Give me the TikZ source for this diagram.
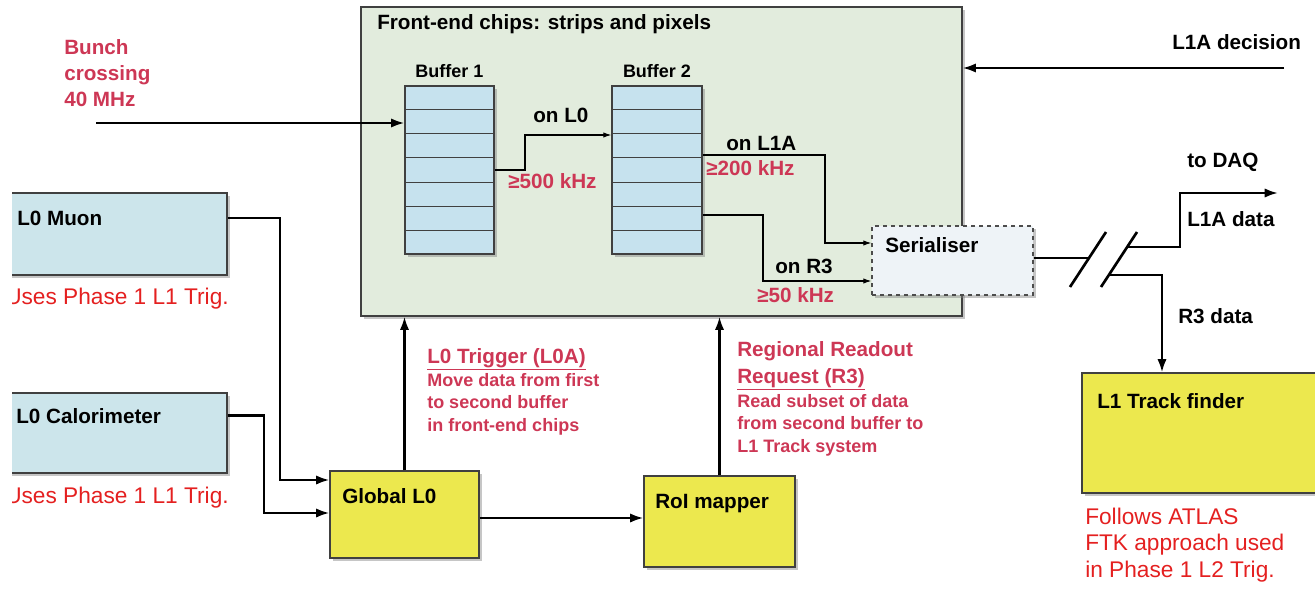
\documentclass[tikz,border=0pt]{standalone}
\usepackage{fontspec}
\setmainfont{Liberation Sans}
\usetikzlibrary{arrows.meta,fit,calc,shadows}

\definecolor{lblred}{RGB}{205,55,85}
\definecolor{notered}{RGB}{228,32,32}
\definecolor{l0blue}{RGB}{204,229,235}
\definecolor{bufblue}{RGB}{198,226,238}
\definecolor{fegreen}{RGB}{226,236,221}
\definecolor{trigyellow}{RGB}{236,232,78}
\definecolor{serfill}{RGB}{238,243,247}

\tikzset{
  shade/.style={drop shadow={opacity=0.45,shadow xshift=2pt,shadow yshift=-2pt}},
  box/.style={draw=black!75, line width=0.9pt, inner sep=0pt, shade},
  febox/.style={box, fill=fegreen},
  l0box/.style={box, fill=l0blue},
  ybox/.style={box, fill=trigyellow},
  bufbox/.style={box, fill=bufblue},
  serbox/.style={draw=black!70, dashed, line width=0.9pt, inner sep=0pt, fill=serfill, shade},
  cell/.style={draw=black!75, line width=0.8pt},
  txt/.style={font=\fontsize{15.5}{18}\selectfont\bfseries, inner sep=0pt, anchor=base west},
  smalltxt/.style={txt, font=\fontsize{13.5}{16}\selectfont\bfseries},
  lbltxt/.style={txt, text=lblred},
  expl/.style={smalltxt, text=lblred},
  notetxt/.style={txt, font=\fontsize{17}{20}\selectfont, text=notered},
  bigarr/.style={-{Latex[length=10pt,width=7pt]}, line width=1.8pt},
  thinarr/.style={-{Latex[length=6pt,width=4pt]}, line width=0.8pt},
  outline/.style={line width=1.5pt},
  brk/.style={line width=2pt},
}

\begin{document}
\begin{tikzpicture}[x=0.75pt,y=-0.75pt]
\useasboundingbox (0,0) rectangle (1315,589);
\clip (12,0) rectangle (1315,589);

% front-end chips
    \node[febox, fit={(361,7) (962,316)}] (fe) {};
    \node[txt] (fetitle) at (377,30) {Front-end chips: strips and pixels};
    \node[bufbox, fit={(405,86) (494,254)}] (buf1) {};
    \node[bufbox, fit={(612,86) (702,254)}] (buf2) {};
    \foreach \b in {buf1,buf2}{
        \foreach \i in {1,...,6}
            \draw[cell] ($(\b.north west)!\i/7!(\b.south west)$) -- ($(\b.north east)!\i/7!(\b.south east)$);
    }
    \node[smalltxt, anchor=base] at (buf1.north |- 0,77) {Buffer 1};
    \node[smalltxt, anchor=base] at (buf2.north |- 0,77) {Buffer 2};
    \node[serbox, fit={(872,226) (1033,295)}] (ser) {};
    \node[txt] (serlbl) at (885,252) {Serialiser};

% trigger boxes
    \node[l0box, fit={(-10,193) (227,275)}] (muon) {};
    \node[txt] (muonlbl) at (17,225) {L0 Muon};
    \node[notetxt] at (5,304) {Uses Phase 1 L1 Trig.};
    \node[l0box, fit={(-10,393) (227,473)}] (calo) {};
    \node[txt] (calolbl) at (16,423) {L0 Calorimeter};
    \node[notetxt] at (5,503) {Uses Phase 1 L1 Trig.};
    \node[ybox, fit={(330,471) (479,558)}] (glob) {};
    \node[txt] (globlbl) at (342,503) {Global L0};
    \node[ybox, fit={(644,476) (795,567)}] (roi) {};
    \node[txt] (roilbl) at (655,508) {RoI mapper};
    \node[ybox, fit={(1082,373) (1330,493)}] (trk) {};
    \node[txt] (trklbl) at (1097,408) {L1 Track finder};

% data flow in the chips
    \coordinate (bx) at (96,123);
    \draw[bigarr] (bx) -- (buf1.west |- bx);
    \foreach \t [count=\i from 0] in {Bunch,crossing,40 MHz}
        \node[lbltxt] at (64,{55+25.5*\i}) {\t};
    \draw[thinarr] (buf1.east |- 0,170) -| (525,135) -- (buf2.west |- 0,135);
    \draw[thinarr] (buf2.east |- 0,155) -| (825,243) -- (ser.west |- 0,243);
    \draw[thinarr] (buf2.east |- 0,215) -| (763,281) -- (ser.west |- 0,281);
    \node[txt] at (533,122) {on L0};
    \node[lbltxt] at (508,188) {≥500 kHz};
    \node[txt] at (726,150) {on L1A};
    \node[lbltxt] at (706,175) {≥200 kHz};
    \node[txt] at (775,273) {on R3};
    \node[lbltxt] at (757,302) {≥50 kHz};

% L1A decision and readout
    \coordinate (dec) at (1284,68);
    \draw[bigarr] (dec) -- (fe.east |- dec);
    \node[txt] at (1172,50) {L1A decision};
    \draw[outline] (ser.east |- 0,258) -- (1089,258);
    \draw[brk] (1070,287) -- (1106,232);
    \draw[brk] (1101,287) -- (1137,232);
    \coordinate (daq) at (1278,193);
    \draw[bigarr] (1127,247) -| (1180,193) -- (daq);
    \draw[bigarr] (1109,275) -| (trk.north -| 1162,0);
    \node[txt] at (1187,167) {to DAQ};
    \node[txt] at (1187,226) {L1A data};
    \node[txt] at (1178,323) {R3 data};
    \foreach \t [count=\i from 0] in {Follows ATLAS,FTK approach used,in Phase 1 L2 Trig.}
        \node[notetxt] at (1085,{524+26.5*\i}) {\t};

% triggers
    \draw[bigarr] (muon.east |- muonlbl.west) -| (280,480) -- (glob.west |- 0,480);
    \draw[bigarr] (calo.east |- calolbl.west) -| (264,513) -- (glob.west |- 0,513);
    \draw[bigarr] (glob.north) -- (glob.north |- fe.south);
    \draw[bigarr] (glob.east |- 0,518) -- (roi.west |- 0,518);
    \draw[bigarr] (roi.north) -- (roi.north |- fe.south);
    \node[lbltxt] at (427,363) {\underline{L0 Trigger (L0A)}};
    \foreach \t [count=\i from 0] in {Move data from first,to second buffer,in front-end chips}
        \node[expl] at (427,{386+22.5*\i}) {\t};
    \node[lbltxt] at (737,356) {Regional Readout};
    \node[lbltxt] at (737,383) {\underline{Request (R3)}};
    \foreach \t [count=\i from 0] in {Read subset of data,from second buffer to,L1 Track system}
        \node[expl] at (737,{407+22.5*\i}) {\t};
\end{tikzpicture}
\end{document}
